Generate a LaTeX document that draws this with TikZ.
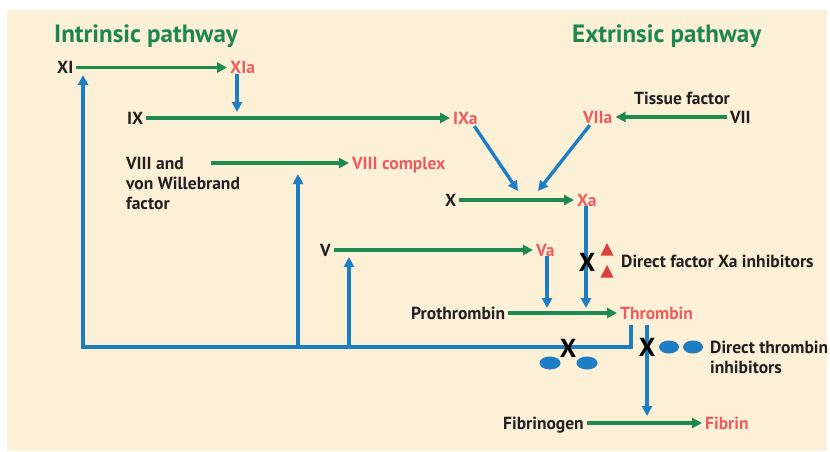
\documentclass[tikz,border=0pt]{standalone}
\usepackage{fontspec}
\setmainfont{PT Sans}
\usetikzlibrary{arrows.meta,calc}
\definecolor{bgc}{HTML}{FCF1D7}
\definecolor{grn}{HTML}{1F8A50}
\definecolor{ttlc}{HTML}{1E8650}
\definecolor{blu}{HTML}{1E7EC3}
\definecolor{actc}{HTML}{EC5B5E}
\definecolor{txt}{HTML}{231F20}
\definecolor{tri}{HTML}{D9413E}
\begin{document}
\begin{tikzpicture}[x=1pt,y=-1pt,
  lbl/.style={font=\bfseries\fontsize{17.5}{20}\selectfont, text=txt, inner xsep=3pt, inner ysep=0pt, text height=12pt, text depth=0pt, anchor=west},
  act/.style={lbl, text=actc},
  ttl/.style={font=\bfseries\fontsize{25}{28}\selectfont, text=ttlc, inner sep=0pt, anchor=base west},
  garr/.style={draw=grn, line width=3.4pt, -{Triangle[length=10pt,width=10pt]}},
  barr/.style={draw=blu, line width=3.4pt, -{Triangle[length=10pt,width=10pt]}},
  xmk/.style={font=\bfseries\fontsize{26}{26}\selectfont, text=black, inner sep=0pt},
  pill/.style={fill=blu},
  tria/.style={fill=tri}
]
\useasboundingbox (0,0) rectangle (830,451);
\fill[white] (0,0) rectangle (830,451);
\fill[bgc] (7,10) rectangle (827,451);

% titles
\node[ttl] (tin) at (54,42) {Intrinsic pathway};
\node[ttl] (tex) at (572,42) {Extrinsic pathway};

% labels
\node[lbl] (XI) at (54,67.5) {XI};
\node[act] (XIa) at (227,67.5) {XIa};
\node[lbl] (IX) at (124,118) {IX};
\node[act] (IXa) at (450,118) {IXa};
\node[act] (VIIa) at (580,117) {VIIa};
\node[lbl] (VII) at (727,117) {VII};
\node[lbl] (TF) at (631,98) {Tissue factor};
\node[lbl] (VIII) at (123,163) {VIII and};
\node[lbl] (VIIIb) at (123,183) {von Willebrand};
\node[lbl] (VIIIf) at (123,203) {factor};
\node[act] (VIIIc) at (349,163) {VIII complex};
\node[lbl] (X) at (442,200) {X};
\node[act] (Xa) at (574,200) {Xa};
\node[lbl] (V) at (317,250) {V};
\node[act] (Va) at (533,250) {Va};
\node[lbl] (DXa) at (618,261) {Direct factor Xa inhibitors};
\node[lbl] (Pro) at (408,313) {Prothrombin};
\node[act] (Thr) at (617,313) {Thrombin};
\node[lbl] (DTI) at (707,347) {Direct thrombin};
\node[lbl] (DTIb) at (707,367) {inhibitors};
\node[lbl] (Fbg) at (500,423) {Fibrinogen};
\node[act] (Fbn) at (702,423) {Fibrin};

% coordinates
\coordinate (c1) at (237,112);
\coordinate (c2) at (518,191);
\coordinate (c3) at (538,191);
\coordinate (v8) at (211,163);
\coordinate (c4) at (586,308);
\coordinate (c5) at (547,308);
\coordinate (t1) at (631,325);
\coordinate (bL) at (83,347);
\coordinate (tipXI) at (83,75);
\coordinate (b8) at (298,347);
\coordinate (u8) at (298,174);
\coordinate (b5) at (349,347);
\coordinate (u5) at (349,257);
\coordinate (t2) at (647,325);
\coordinate (c6) at (647,416);

% green conversions
\draw[garr] (XI.east) -- (XIa.west);
\draw[garr] (IX.east) -- (IXa.west);
\draw[garr] (VII.west) -- (VIIa.east);
\draw[garr] (v8) -- (VIIIc.west);
\draw[garr] (X.east) -- (Xa.west);
\draw[garr] (V.east) -- (Va.west);
\draw[garr] (Pro.east) -- (Thr.west);
\draw[garr] (Fbg.east) -- (Fbn.west);

% blue activations
\draw[barr] (c1 |- XIa.south) -- (c1);
\draw[barr] ($(IXa.south)+(9,2)$) -- (c2);
\draw[barr] ($(VIIa.south)+(-8,2)$) -- (c3);
\draw[barr] (c4 |- Xa.south) -- (c4);
\draw[barr] (c5 |- Va.south) -- (c5);
\draw[barr] (t1) |- (bL) -- (tipXI);
\draw[barr] (b8) -- (u8);
\draw[barr] (b5) -- (u5);
\draw[barr] (t2) -- (c6);

% inhibitors
\node[xmk] (x1) at (587,262) {X};
\node[xmk] (x2) at (568,348) {X};
\node[xmk] (x3) at (647,347) {X};
\fill[tria] (607,243) -- (613.5,255.5) -- (600.5,255.5) -- cycle;
\fill[tria] (607,265) -- (613.5,277.5) -- (600.5,277.5) -- cycle;
\fill[pill] (550,363) ellipse [x radius=10.5, y radius=6.5];
\fill[pill] (587,363) ellipse [x radius=10.5, y radius=6.5];
\fill[pill] (669,347) ellipse [x radius=10, y radius=6.5];
\fill[pill] (693,347) ellipse [x radius=10, y radius=6.5];
\end{tikzpicture}
\end{document}
